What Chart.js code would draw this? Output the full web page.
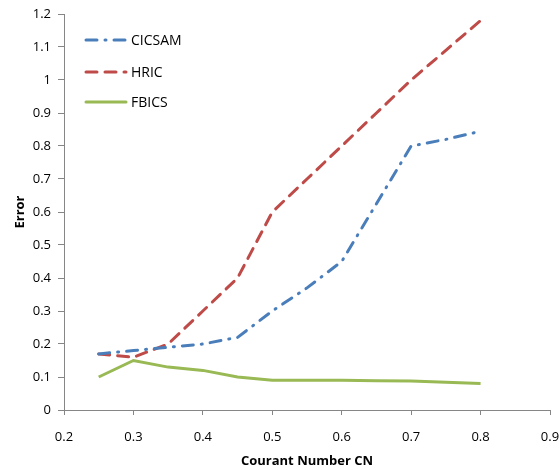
<!DOCTYPE html>
<html lang="en">
<head>
    <meta charset="utf-8">
    <script src="https://cdn.jsdelivr.net/npm/chart.js@4.4.0/dist/chart.umd.min.js"></script>
    <title>Error vs Courant number</title>
    <style>
        html, body { margin: 0; padding: 0; background: #fff; }
        #wrap { width: 559px; height: 470px; }
    </style>
</head>
<body>
    <div id="wrap"><canvas id="chart"></canvas></div>
    <script type="text/javascript">
        // Courant number samples
        var courant = [0.25, 0.3, 0.35, 0.4, 0.45, 0.5, 0.55, 0.6, 0.65, 0.7, 0.75, 0.8];
        // error per scheme
        var cicsam = [0.17, 0.18, 0.19, 0.2, 0.22, 0.3, 0.37, 0.45, 0.625, 0.8, 0.82, 0.845];
        var hric   = [0.17, 0.16, 0.2, 0.3, 0.4, 0.6, 0.7, 0.8, 0.9, 1.0, 1.09, 1.18];
        var fbics  = [0.1, 0.15, 0.13, 0.12, 0.1, 0.09, 0.09, 0.09, 0.089, 0.088, 0.084, 0.08];
        var xTicks = [0.2, 0.3, 0.4, 0.5, 0.6, 0.7, 0.8, 0.9];
        var yTicks = [0, 0.1, 0.2, 0.3, 0.4, 0.5, 0.6, 0.7, 0.8, 0.9, 1, 1.1, 1.2];

        function pts(ys) {
            var out = [];
            for (let i = 0; i < courant.length; i++) {
                out.push({x: courant[i], y: ys[i]});
            }
            return out;
        }

        var FONT = "'Open Sans', 'Noto Sans', sans-serif";
        var axisColor = '#868686';

        // legend drawn inside the plot area, one entry per row
        var innerLegend = {
            id: 'innerLegend',
            afterDraw: function(chart) {
                var ctx = chart.ctx;
                var rows = [40, 72, 102];
                ctx.save();
                chart.data.datasets.forEach(function(ds, i) {
                    var y = rows[i];
                    ctx.strokeStyle = ds.borderColor;
                    ctx.lineWidth = ds.borderWidth;
                    ctx.setLineDash(ds.borderDash || []);
                    ctx.lineCap = 'round';
                    ctx.beginPath();
                    ctx.moveTo(86, y);
                    ctx.lineTo(126, y);
                    ctx.stroke();
                    ctx.setLineDash([]);
                    ctx.fillStyle = '#000';
                    ctx.font = '14px ' + FONT;
                    ctx.textBaseline = 'middle';
                    ctx.fillText(ds.label, 131, y + 1);
                });
                ctx.restore();
            }
        };

        var ctx = document.getElementById('chart');
        var myChart = new Chart(ctx, {
            type: 'scatter',
            data: {
                datasets: [{
                    label: 'CICSAM',
                    data: pts(cicsam),
                    borderColor: '#4A7EBB',
                    borderWidth: 3,
                    borderDash: [11, 8, 1, 8],
                    borderCapStyle: 'round',
                    showLine: true,
                    pointRadius: 0,
                }, {
                    label: 'HRIC',
                    data: pts(hric),
                    borderColor: '#BE4B48',
                    borderWidth: 3,
                    borderDash: [11, 8],
                    borderCapStyle: 'round',
                    showLine: true,
                    pointRadius: 0,
                }, {
                    label: 'FBICS',
                    data: pts(fbics),
                    borderColor: '#98B954',
                    borderWidth: 3,
                    showLine: true,
                    pointRadius: 0,
                }],
            },
            options: {
                responsive: true,
                maintainAspectRatio: false,
                animation: false,
                layout: { padding: { top: 14, right: 9, left: 0, bottom: 0 } },
                plugins: {
                    legend: { display: false },
                    tooltip: { enabled: false },
                },
                scales: {
                    x: {
                        type: 'linear',
                        min: 0.2, max: 0.9,
                        afterBuildTicks: function(s) { s.ticks = xTicks.map(v => ({value: v})); },
                        afterFit: function(s) {
                            s.height = 60;
                            s.paddingLeft = 0;
                            s.paddingRight = 0;
                        },
                        grid: { drawOnChartArea: false, color: axisColor, tickLength: 5 },
                        border: { color: axisColor },
                        ticks: {
                            color: '#000',
                            font: { family: FONT, size: 13 },
                            padding: 14,
                            maxRotation: 0,
                            callback: v => (+v.toFixed(1)).toString(),
                        },
                        title: {
                            display: true,
                            text: 'Courant Number CN',
                            color: '#000',
                            font: { family: FONT, size: 13, weight: 'bold' },
                            padding: { top: 4, bottom: 1 },
                        },
                    },
                    y: {
                        min: 0, max: 1.2,
                        afterBuildTicks: function(s) { s.ticks = yTicks.map(v => ({value: v})); },
                        afterFit: function(s) {
                            s.width = 64;
                            s.paddingTop = 0;
                            s.paddingBottom = 0;
                        },
                        grid: { drawOnChartArea: false, color: axisColor, tickLength: 6 },
                        border: { color: axisColor },
                        ticks: {
                            color: '#000',
                            font: { family: FONT, size: 13 },
                            padding: 7,
                            callback: v => (+v.toFixed(1)).toString(),
                        },
                        title: {
                            display: true,
                            text: 'Error',
                            color: '#000',
                            font: { family: FONT, size: 13, weight: 'bold' },
                            padding: { top: 12, bottom: 4 },
                        },
                    },
                },
            },
            plugins: [innerLegend],
        });
    </script>
</body>
</html>
